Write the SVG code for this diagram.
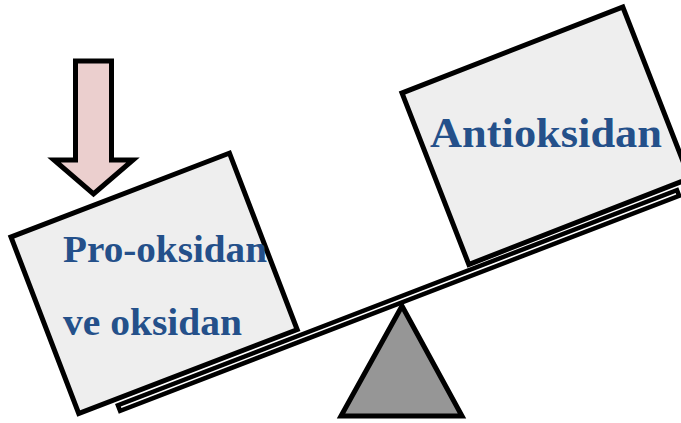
<svg xmlns="http://www.w3.org/2000/svg" width="681" height="423" viewBox="0 0 681 423">
<style>
.box{fill:#eeeeee;stroke:#000;stroke-width:5}
.lbl{font-family:"Liberation Serif","Times New Roman",serif;font-weight:bold;fill:#24508a}
</style>
<rect width="681" height="423" fill="#fff"/>
<g id="connectors">
<rect id="beam" x="119" y="405" width="599" height="6" fill="#fff" stroke="#000" stroke-width="4.5" transform="rotate(-21.04 119 408)"/>
</g>
<g id="fulcrum">
<polygon points="402,306 341,416 462,416" fill="#969696" stroke="#000" stroke-width="5" stroke-linejoin="miter"/>
</g>
<g id="prooxidant">
<rect class="box" x="11" y="237" width="234" height="189" transform="rotate(-21 11 237)"/>
<text class="lbl" x="63" y="262" font-size="38" textLength="204" lengthAdjust="spacingAndGlyphs">Pro-oksidan</text>
<text class="lbl" x="63" y="335" font-size="38" textLength="179" lengthAdjust="spacingAndGlyphs">ve oksidan</text>
</g>
<g id="antioxidant">
<rect class="box" x="402" y="93" width="237" height="184" transform="rotate(-21.3 402 93)"/>
<text class="lbl" x="430" y="147" font-size="43" textLength="232" lengthAdjust="spacingAndGlyphs">Antioksidan</text>
</g>
<g id="arrow">
<path d="M75.5,61 H111.5 V160 H133 L93.5,194 L54,160 H75.5 Z" fill="#ebcfce" stroke="#000" stroke-width="5" stroke-linejoin="miter"/>
</g>
</svg>
